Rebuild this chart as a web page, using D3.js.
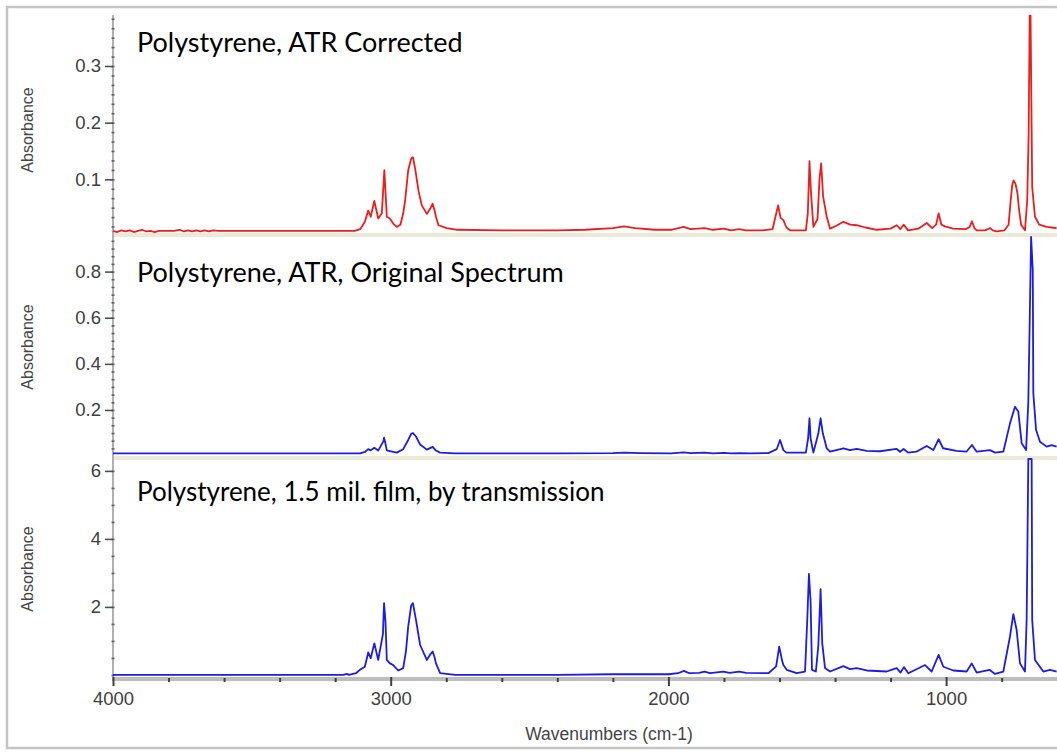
<!DOCTYPE html>
<html><head><meta charset="utf-8">
<script src="https://cdn.jsdelivr.net/npm/d3@7"></script>
<style>body{margin:0;background:#fff}svg{display:block}</style>
</head><body>
<svg id="chart" width="1057" height="752"></svg>
<script>
// ---------- data ----------
const panelTitles = ["Polystyrene, ATR Corrected", "Polystyrene, ATR, Original Spectrum", "Polystyrene, 1.5 mil. film, by transmission"];
const xMajorTicks = [4000, 3000, 2000, 1000];
const yTicksCorrected = [0.1, 0.2, 0.3];
const yTicksOriginal = [0.2, 0.4, 0.6, 0.8];
const yTicksTransmission = [2, 4, 6];
const xLabel = "Wavenumbers (cm-1)";
const yLabel = "Absorbance";

// [wavenumber, absorbance]
const atrCorrected = [[4000,0.009],[3985,0.007],[3970,0.010],[3955,0.008],[3940,0.010],[3925,0.007],[3910,0.009],[3895,0.011],[3880,0.008],[3865,0.009],[3850,0.007],[3835,0.009],[3800,0.009],[3780,0.009],[3760,0.011],[3745,0.008],[3730,0.010],[3715,0.008],[3700,0.010],[3685,0.008],[3670,0.010],[3655,0.008],[3640,0.010],[3620,0.009],[3400,0.009],[3130,0.009],[3110,0.012],[3093,0.025],[3081,0.045],[3072,0.034],[3059,0.062],[3045,0.031],[3032,0.040],[3026,0.090],[3023,0.116],[3019,0.080],[3014,0.034],[3003,0.031],[2991,0.022],[2978,0.016],[2965,0.020],[2955,0.040],[2948,0.063],[2937,0.116],[2926,0.137],[2920,0.139],[2912,0.119],[2900,0.080],[2888,0.054],[2870,0.039],[2856,0.050],[2849,0.057],[2842,0.045],[2837,0.034],[2828,0.019],[2798,0.014],[2760,0.011],[2600,0.010],[2400,0.010],[2300,0.011],[2200,0.014],[2160,0.017],[2120,0.014],[2050,0.011],[1990,0.011],[1945,0.016],[1920,0.012],[1870,0.014],[1840,0.011],[1800,0.013],[1775,0.010],[1745,0.012],[1720,0.010],[1660,0.010],[1625,0.012],[1605,0.054],[1596,0.032],[1586,0.028],[1575,0.015],[1562,0.010],[1505,0.010],[1498,0.040],[1492,0.132],[1487,0.080],[1478,0.016],[1463,0.030],[1456,0.100],[1450,0.128],[1443,0.070],[1430,0.034],[1418,0.013],[1395,0.018],[1370,0.025],[1345,0.020],[1322,0.019],[1290,0.015],[1250,0.011],[1200,0.013],[1178,0.019],[1165,0.012],[1153,0.020],[1137,0.010],[1100,0.013],[1070,0.023],[1050,0.014],[1036,0.020],[1027,0.040],[1017,0.020],[1004,0.017],[975,0.013],[930,0.012],[915,0.016],[907,0.026],[898,0.014],[890,0.010],[860,0.010],[850,0.012],[842,0.014],[832,0.010],[818,0.008],[790,0.010],[775,0.020],[768,0.060],[762,0.090],[757,0.098],[750,0.092],[743,0.075],[737,0.045],[730,0.020],[716,0.010],[708,0.063],[703,0.175],[699,0.389],[696,0.389],[690,0.086],[680,0.034],[665,0.020],[638,0.016],[620,0.015],[602,0.014]];

const atrOriginal = [[4000,0.012],[3900,0.012],[3800,0.012],[3700,0.012],[3600,0.012],[3400,0.012],[3110,0.012],[3093,0.018],[3081,0.030],[3072,0.025],[3059,0.036],[3045,0.024],[3026,0.065],[3024,0.080],[3020,0.060],[3014,0.025],[3003,0.022],[2978,0.015],[2955,0.030],[2937,0.070],[2926,0.097],[2920,0.100],[2909,0.085],[2894,0.050],[2870,0.028],[2849,0.040],[2837,0.024],[2822,0.015],[2768,0.012],[2400,0.012],[2200,0.013],[2160,0.015],[2100,0.013],[1990,0.012],[1945,0.016],[1920,0.013],[1870,0.015],[1840,0.012],[1800,0.014],[1775,0.012],[1745,0.013],[1700,0.012],[1640,0.013],[1610,0.030],[1598,0.070],[1586,0.026],[1575,0.015],[1505,0.015],[1497,0.077],[1492,0.164],[1488,0.077],[1478,0.015],[1460,0.099],[1452,0.164],[1444,0.099],[1430,0.034],[1418,0.019],[1370,0.034],[1346,0.026],[1322,0.031],[1286,0.023],[1238,0.021],[1178,0.031],[1166,0.019],[1153,0.031],[1137,0.015],[1107,0.019],[1070,0.044],[1046,0.026],[1027,0.073],[1011,0.034],[963,0.023],[927,0.019],[907,0.048],[890,0.019],[842,0.026],[824,0.015],[794,0.019],[770,0.142],[752,0.214],[740,0.193],[728,0.056],[712,0.026],[704,0.236],[698,0.656],[694,0.950],[688,0.807],[686,0.272],[676,0.113],[662,0.062],[638,0.041],[620,0.048],[602,0.041]];

const transmission = [[4000,0.00],[3800,0.00],[3600,0.00],[3400,0.00],[3170,0.00],[3158,0.03],[3150,0.00],[3125,0.05],[3111,0.15],[3093,0.24],[3081,0.66],[3072,0.49],[3059,0.93],[3045,0.44],[3028,1.20],[3024,2.11],[3019,1.60],[3014,0.44],[3003,0.34],[2991,0.29],[2973,0.13],[2955,0.20],[2945,0.70],[2937,1.42],[2926,2.05],[2920,2.11],[2909,1.62],[2894,0.88],[2870,0.44],[2856,0.62],[2849,0.69],[2843,0.55],[2837,0.34],[2822,0.05],[2768,0.00],[2600,0.00],[2400,0.00],[2200,0.02],[2000,0.02],[1965,0.05],[1944,0.12],[1925,0.05],[1890,0.06],[1870,0.10],[1850,0.05],[1802,0.10],[1780,0.06],[1745,0.10],[1720,0.06],[1640,0.05],[1612,0.25],[1601,0.83],[1590,0.40],[1586,0.29],[1574,0.15],[1538,0.05],[1508,0.10],[1500,1.62],[1494,2.97],[1488,2.16],[1483,0.15],[1469,0.10],[1460,0.88],[1452,2.52],[1446,0.93],[1436,0.20],[1418,0.10],[1370,0.26],[1346,0.17],[1322,0.20],[1286,0.13],[1214,0.10],[1178,0.20],[1164,0.07],[1152,0.23],[1136,0.05],[1076,0.29],[1052,0.10],[1027,0.59],[1010,0.24],[974,0.13],[926,0.10],[908,0.34],[890,0.07],[844,0.15],[824,0.03],[794,0.10],[770,1.13],[758,1.79],[746,1.32],[734,0.34],[716,0.10],[710,1.62],[704,6.35],[692,6.35],[690,1.62],[680,0.44],[650,0.10],[626,0.15],[602,0.10]];

// ---------- layout ----------
const svg = d3.select("#chart");
const X0 = 113, XR = 1057.2;
const x = d3.scaleLinear().domain([4000, 600]).range([X0, XR]);

const panels = [
  {data: atrCorrected, color: "#ee1c1c", domain: [0, 0.39], range: [236, 15], ticks: yTicksCorrected, minor: 0.1/6, fmt: d3.format(".1f"), sepY: 233, titleY: 52, titleSize: 27, labelY: 130},
  {data: atrOriginal, color: "#1c1ce6", domain: [0, 0.95], range: [456.1, 237], ticks: yTicksOriginal, minor: 0.2/6, fmt: d3.format(".1f"), sepY: 456, titleY: 282, titleSize: 27, labelY: 347},
  {data: transmission, color: "#1c1ce6", domain: [-0.12, 6.35], range: [679, 459], ticks: yTicksTransmission, minor: 0.5, fmt: d3.format("d"), sepY: null, titleY: 501, titleSize: 26, labelY: 569}
];

// outer frame
svg.append("rect").attr("x", 7).attr("y", 7).attr("width", 1100).attr("height", 741)
  .attr("fill", "none").attr("stroke", "#c4c4c4").attr("stroke-width", 2.5);

const tickFont = "'Liberation Sans', Arial, sans-serif";

// separators
panels.forEach(p => {
  if (p.sepY !== null) {
    svg.append("rect").attr("x", X0).attr("y", p.sepY).attr("width", XR - X0).attr("height", 4).attr("fill", "#ece9d8");
  }
});

// y axis line
svg.append("line").attr("x1", X0).attr("x2", X0).attr("y1", 15).attr("y2", 681)
  .attr("stroke", "#b0b0b0").attr("stroke-width", 2);

panels.forEach((p, i) => {
  const y = d3.scaleLinear().domain(p.domain).range(p.range);
  p.y = y;
  // minor ticks
  const lo = Math.ceil(p.domain[0] / p.minor), hi = Math.floor(p.domain[1] / p.minor);
  const minors = d3.range(lo, hi + 1).map(k => k * p.minor).filter(v => v > p.domain[0] + 1e-9);
  const gm = svg.append("g").attr("transform", `translate(${X0 + 1.5},0)`)
    .call(d3.axisLeft(y).tickValues(minors).tickSize(3).tickFormat(""));
  gm.select(".domain").remove();
  gm.selectAll(".tick line").attr("stroke", "#606060").attr("stroke-width", 1.6);
  // major ticks
  const g = svg.append("g").attr("transform", `translate(${X0},0)`)
    .call(d3.axisLeft(y).tickValues(p.ticks).tickSize(8).tickPadding(4).tickFormat(p.fmt));
  g.select(".domain").remove();
  g.selectAll(".tick line").attr("stroke", "#505050").attr("stroke-width", 1.6);
  g.selectAll(".tick text").attr("fill", "#404040").style("font-family", tickFont).style("font-size", "18.5px");
  // y label
  svg.append("text").attr("transform", `translate(33,${p.labelY}) rotate(-90)`)
    .attr("text-anchor", "middle").attr("fill", "#454545")
    .style("font-family", tickFont).style("font-size", "16px").text(yLabel);
});

// x axis
svg.append("line").attr("x1", X0).attr("x2", XR).attr("y1", 679).attr("y2", 679)
  .attr("stroke", "#bdbdbd").attr("stroke-width", 4);
const xMinor = d3.range(3800, 600, -200).filter(v => !xMajorTicks.includes(v));
const gxm = svg.append("g").attr("transform", "translate(0,678)")
  .call(d3.axisBottom(x).tickValues(xMinor).tickSize(4).tickFormat(""));
gxm.select(".domain").remove();
gxm.selectAll(".tick line").attr("stroke", "#404040").attr("stroke-width", 2);
const gx = svg.append("g").attr("transform", "translate(0,677)")
  .call(d3.axisBottom(x).tickValues(xMajorTicks).tickSize(9).tickPadding(6).tickFormat(d3.format("d")));
gx.select(".domain").remove();
gx.selectAll(".tick line").attr("stroke", "#404040").attr("stroke-width", 2);
gx.selectAll(".tick text").attr("fill", "#404040").style("font-family", tickFont).style("font-size", "18.5px");

svg.append("text").attr("x", 609).attr("y", 740).attr("text-anchor", "middle").attr("fill", "#454545")
  .style("font-family", tickFont).style("font-size", "17.5px").text(xLabel);

// curves
panels.forEach((p, i) => {
  const line = d3.line().x(d => x(d[0])).y(d => p.y(d[1]));
  svg.append("path").datum(p.data).attr("d", line).attr("fill", "none")
    .attr("stroke", p.color).attr("stroke-width", 1.8).attr("stroke-linejoin", "round");
  svg.append("text").attr("x", 137).attr("y", p.titleY).attr("fill", "#000")
    .style("font-family", "Lato, 'Open Sans', sans-serif").style("font-size", p.titleSize + "px").text(panelTitles[i]);
});
</script>
</body></html>
